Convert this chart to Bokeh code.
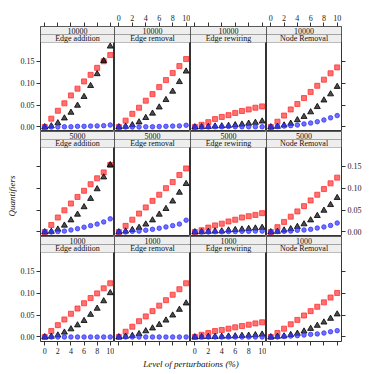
from math import pi
from bokeh.plotting import figure
from bokeh.models import (Range1d, FixedTicker, PrintfTickFormatter, CustomJSTickFormatter,
                          Label, GridBox, LinearAxis, BoxAnnotation)
from bokeh.embed import file_html
from bokeh.resources import INLINE

# ---------------- data ----------------
x_levels = [0, 1, 2, 3, 4, 5, 6, 7, 8, 9, 10]
sizes = ["10000", "5000", "1000"]
perturbations = ["Edge addition", "Edge removal", "Edge rewiring", "Node Removal"]
x_ticks = [0, 2, 4, 6, 8, 10]
y_ticks = [0.0, 0.05, 0.10, 0.15]

# order of inner lists follows `perturbations`
red_10000 = [
    [0, 0.019, 0.037, 0.054, 0.072, 0.0875, 0.104, 0.119, 0.135, 0.150, 0.164],
    [0, 0.0145, 0.030, 0.044, 0.060, 0.075, 0.091, 0.107, 0.123, 0.139, 0.155],
    [0, 0.005, 0.011, 0.018, 0.023, 0.027, 0.032, 0.0365, 0.040, 0.044, 0.047],
    [0, 0.012, 0.026, 0.040, 0.0525, 0.066, 0.080, 0.094, 0.108, 0.1225, 0.136],
]
black_10000 = [
    [0, 0.002, 0.009, 0.020, 0.033, 0.049, 0.069, 0.094, 0.121, 0.151, 0.184],
    [0, 0.001, 0.0045, 0.011, 0.021, 0.031, 0.045, 0.062, 0.081, 0.103, 0.127],
    [0, 0, 0.0005, 0.0015, 0.002, 0.003, 0.0045, 0.006, 0.008, 0.010, 0.013],
    [0, 0.001, 0.004, 0.008, 0.016, 0.0235, 0.034, 0.046, 0.061, 0.075, 0.092],
]
blue_10000 = [
    [0, 0, 0, 0.0005, 0.0005, 0.0015, 0.0015, 0.002, 0.0025, 0.003, 0.0045],
    [0, 0, 0, 0, 0.0005, 0.0005, 0.001, 0.0015, 0.002, 0.0025, 0.004],
    [0, 0, 0, 0.0005, 0.0005, 0.001, 0.0005, 0.0005, 0.0005, 0.0005, 0.0005],
    [0, 0.001, 0.002, 0.003, 0.0045, 0.007, 0.009, 0.012, 0.016, 0.021, 0.026],
]
red_5000 = [
    [0, 0.016, 0.033, 0.0495, 0.065, 0.080, 0.094, 0.109, 0.1225, 0.136, 0.153],
    [0, 0.014, 0.028, 0.042, 0.056, 0.071, 0.085, 0.100, 0.114, 0.130, 0.145],
    [0, 0.004, 0.010, 0.015, 0.019, 0.024, 0.028, 0.033, 0.036, 0.039, 0.043],
    [0, 0.011, 0.023, 0.035, 0.047, 0.059, 0.072, 0.085, 0.098, 0.111, 0.124],
]
black_5000 = [
    [0, 0.001, 0.006, 0.015, 0.027, 0.040, 0.057, 0.076, 0.098, 0.125, 0.153],
    [0, 0.0015, 0.005, 0.010, 0.0175, 0.027, 0.040, 0.053, 0.070, 0.090, 0.110],
    [0, 0, 0.001, 0.0015, 0.002, 0.004, 0.005, 0.006, 0.0075, 0.0085, 0.010],
    [0, 0.001, 0.004, 0.007, 0.012, 0.018, 0.027, 0.037, 0.049, 0.062, 0.078],
]
blue_5000 = [
    [0, 0, 0.001, 0.002, 0.0045, 0.0075, 0.011, 0.0145, 0.018, 0.023, 0.030],
    [0, 0, 0.0015, 0.002, 0.004, 0.006, 0.0085, 0.0115, 0.0145, 0.018, 0.027],
    [0, 0, 0, 0.0005, 0.0005, 0.001, 0.001, 0.0015, 0.0015, 0.002, 0.002],
    [0, 0.001, 0.0015, 0.002, 0.004, 0.0045, 0.006, 0.009, 0.0115, 0.015, 0.0205],
]
red_1000 = [
    [0, 0.0135, 0.027, 0.040, 0.053, 0.065, 0.077, 0.089, 0.0995, 0.111, 0.1225],
    [0, 0.012, 0.0235, 0.036, 0.047, 0.059, 0.0715, 0.084, 0.0965, 0.109, 0.1225],
    [0, 0.005, 0.009, 0.0135, 0.016, 0.019, 0.022, 0.025, 0.028, 0.031, 0.0335],
    [0, 0.009, 0.019, 0.029, 0.039, 0.049, 0.059, 0.069, 0.079, 0.090, 0.1005],
]
black_1000 = [
    [0, 0.001, 0.004, 0.0105, 0.018, 0.027, 0.037, 0.051, 0.065, 0.082, 0.1005],
    [0, 0.001, 0.003, 0.007, 0.0135, 0.020, 0.028, 0.038, 0.0495, 0.0625, 0.077],
    [0, 0, 0.0005, 0.0005, 0.001, 0.0015, 0.002, 0.003, 0.0035, 0.0045, 0.006],
    [0, 0.001, 0.002, 0.005, 0.008, 0.013, 0.019, 0.026, 0.0335, 0.042, 0.052],
]
blue_1000 = [
    [0, 0, 0, 0, 0, 0, 0, 0, 0, 0, 0],
    [0, 0, 0, 0, 0, 0, 0, 0, 0, 0, 0],
    [0, 0, 0, 0, 0, 0, 0, 0, 0, 0, 0],
    [0, 0, 0.001, 0.002, 0.003, 0.0045, 0.006, 0.007, 0.009, 0.012, 0.0145],
]

red_rows = [red_10000, red_5000, red_1000]
black_rows = [black_10000, black_5000, black_1000]
blue_rows = [blue_10000, blue_5000, blue_1000]

# ---------------- layout / style ----------------
FONT = "Liberation Serif"
XR = (-0.65, 10.65)
YR = (-0.0103, 0.1928)
YLAB_W = 17              # column holding the y title
LEFT, RIGHT = 21, 22
FW, FH = 76, 89          # data-panel size in px
STRIP = 8                # height of each strip in px
TOPAX, BOTAX = 26, 15
XLAB_H = 14
EDGE = "#333333"
STRIP_BG = "#eeeeee"

UNIT_PER_PX = (YR[1] - YR[0]) / FH
S0 = YR[1]
S1 = S0 + STRIP * UNIT_PER_PX
S2 = S0 + 2 * STRIP * UNIT_PER_PX
XMID = (XR[0] + XR[1]) / 2
ROW_H = FH + 2 * STRIP
TOTAL_H = TOPAX + 3 * ROW_H + BOTAX


def style_axis(ax, ticks, labels, fmt=None):
    ax.ticker = FixedTicker(ticks=ticks, minor_ticks=[])
    ax.axis_line_color = None
    ax.major_tick_line_color = EDGE
    ax.major_tick_in = 0
    ax.major_tick_out = 4
    ax.minor_tick_line_color = None
    ax.major_label_standoff = 2
    ax.major_label_text_font = FONT
    ax.major_label_text_font_size = "8px"
    ax.major_label_text_color = "#222222"
    if labels:
        if fmt is not None:
            ax.formatter = fmt
    else:
        ax.formatter = CustomJSTickFormatter(code="return '';")


def col_width(c):
    return FW + (LEFT if c == 0 else 0) + (RIGHT if c == 3 else 0)


def strip_label(text, y):
    return Label(x=XMID, y=y, text=text, text_align="center",
                 text_baseline="middle", text_font=FONT,
                 text_font_size="8px", text_color="#111111")


def blank_fig(w, h, **kw):
    f = figure(width=w, height=h, x_range=Range1d(0, 1), y_range=Range1d(0, 1),
               x_axis_location=None, y_axis_location=None, title=None,
               toolbar_location=None, output_backend="svg",
               min_border_top=0, min_border_bottom=0, outline_line_color=None,
               **kw)
    f.grid.visible = False
    return f


children = []
for r, size in enumerate(sizes):
    for c, pert in enumerate(perturbations):
        top = TOPAX if r == 0 else 0
        bottom = BOTAX if r == 2 else 0
        p = figure(width=col_width(c), height=ROW_H + top + bottom,
                   x_range=Range1d(*XR), y_range=Range1d(YR[0], S2),
                   x_axis_location=None, y_axis_location=None, title=None,
                   toolbar_location=None, output_backend="svg",
                   min_border_left=LEFT if c == 0 else 0,
                   min_border_right=RIGHT if c == 3 else 0,
                   min_border_top=top, min_border_bottom=bottom,
                   outline_line_color=EDGE, outline_line_width=1,
                   border_fill_color="white", background_fill_color="white")
        p.grid.visible = False

        # strips (perturbation type directly above panel, size above it)
        p.add_layout(BoxAnnotation(bottom=S0, top=S1, fill_color=STRIP_BG,
                                   fill_alpha=1, line_color=EDGE, line_width=1,
                                   level="underlay"))
        p.add_layout(BoxAnnotation(bottom=S1, top=S2, fill_color=STRIP_BG,
                                   fill_alpha=1, line_color=EDGE, line_width=1,
                                   level="underlay"))
        p.add_layout(strip_label(pert, (S0 + S1) / 2))
        p.add_layout(strip_label(size, (S1 + S2) / 2))

        p.scatter(x_levels, red_rows[r][c], marker="square", size=5,
                  fill_color="#ff3333", fill_alpha=0.7,
                  line_color="#ff3333", line_alpha=0.8)
        p.scatter(x_levels, black_rows[r][c], marker="triangle", size=6,
                  fill_color="#000000", fill_alpha=0.7,
                  line_color="#000000", line_alpha=0.8)
        p.scatter(x_levels, blue_rows[r][c], marker="circle", size=4.5,
                  fill_color="#3333ff", fill_alpha=0.7,
                  line_color="#3333ff", line_alpha=0.8)

        if r == 0:
            ax = LinearAxis()
            style_axis(ax, x_ticks, labels=(c % 2 == 1))
            p.add_layout(ax, "above")
        if r == 2:
            ax = LinearAxis()
            style_axis(ax, x_ticks, labels=(c % 2 == 0))
            p.add_layout(ax, "below")
        if c == 0:
            ax = LinearAxis()
            style_axis(ax, y_ticks, labels=(r != 1),
                       fmt=PrintfTickFormatter(format="%.2f"))
            p.add_layout(ax, "left")
        if c == 3:
            ax = LinearAxis()
            style_axis(ax, y_ticks, labels=(r == 1),
                       fmt=PrintfTickFormatter(format="%.2f"))
            p.add_layout(ax, "right")
        children.append((p, r, c + 1))

# y-axis title, centred on the middle row's data panel
yl = blank_fig(YLAB_W, TOTAL_H, min_border_left=0, min_border_right=0)
mid_from_top = TOPAX + ROW_H + 2 * STRIP + FH / 2
yl.add_layout(Label(x=0.7, y=1 - mid_from_top / TOTAL_H, text="Quantifiers",
                    angle=pi / 2, text_align="center", text_baseline="middle",
                    text_font=FONT, text_font_style="italic",
                    text_font_size="9px", text_color="#111111"))
children.append((yl, 0, 0, 3, 1))

# x-axis title spanning the four panel columns
xl = blank_fig(LEFT + 4 * FW + RIGHT, XLAB_H,
               min_border_left=LEFT, min_border_right=RIGHT)
xl.add_layout(Label(x=0.5, y=0.5, text="Level of perturbations (%)",
                    text_align="center", text_baseline="middle",
                    text_font=FONT, text_font_style="italic",
                    text_font_size="9px", text_color="#111111"))
children.append((xl, 3, 1, 1, 4))

grid = GridBox(children=children, spacing=0)

open("out.html", "w").write(file_html(grid, INLINE))
